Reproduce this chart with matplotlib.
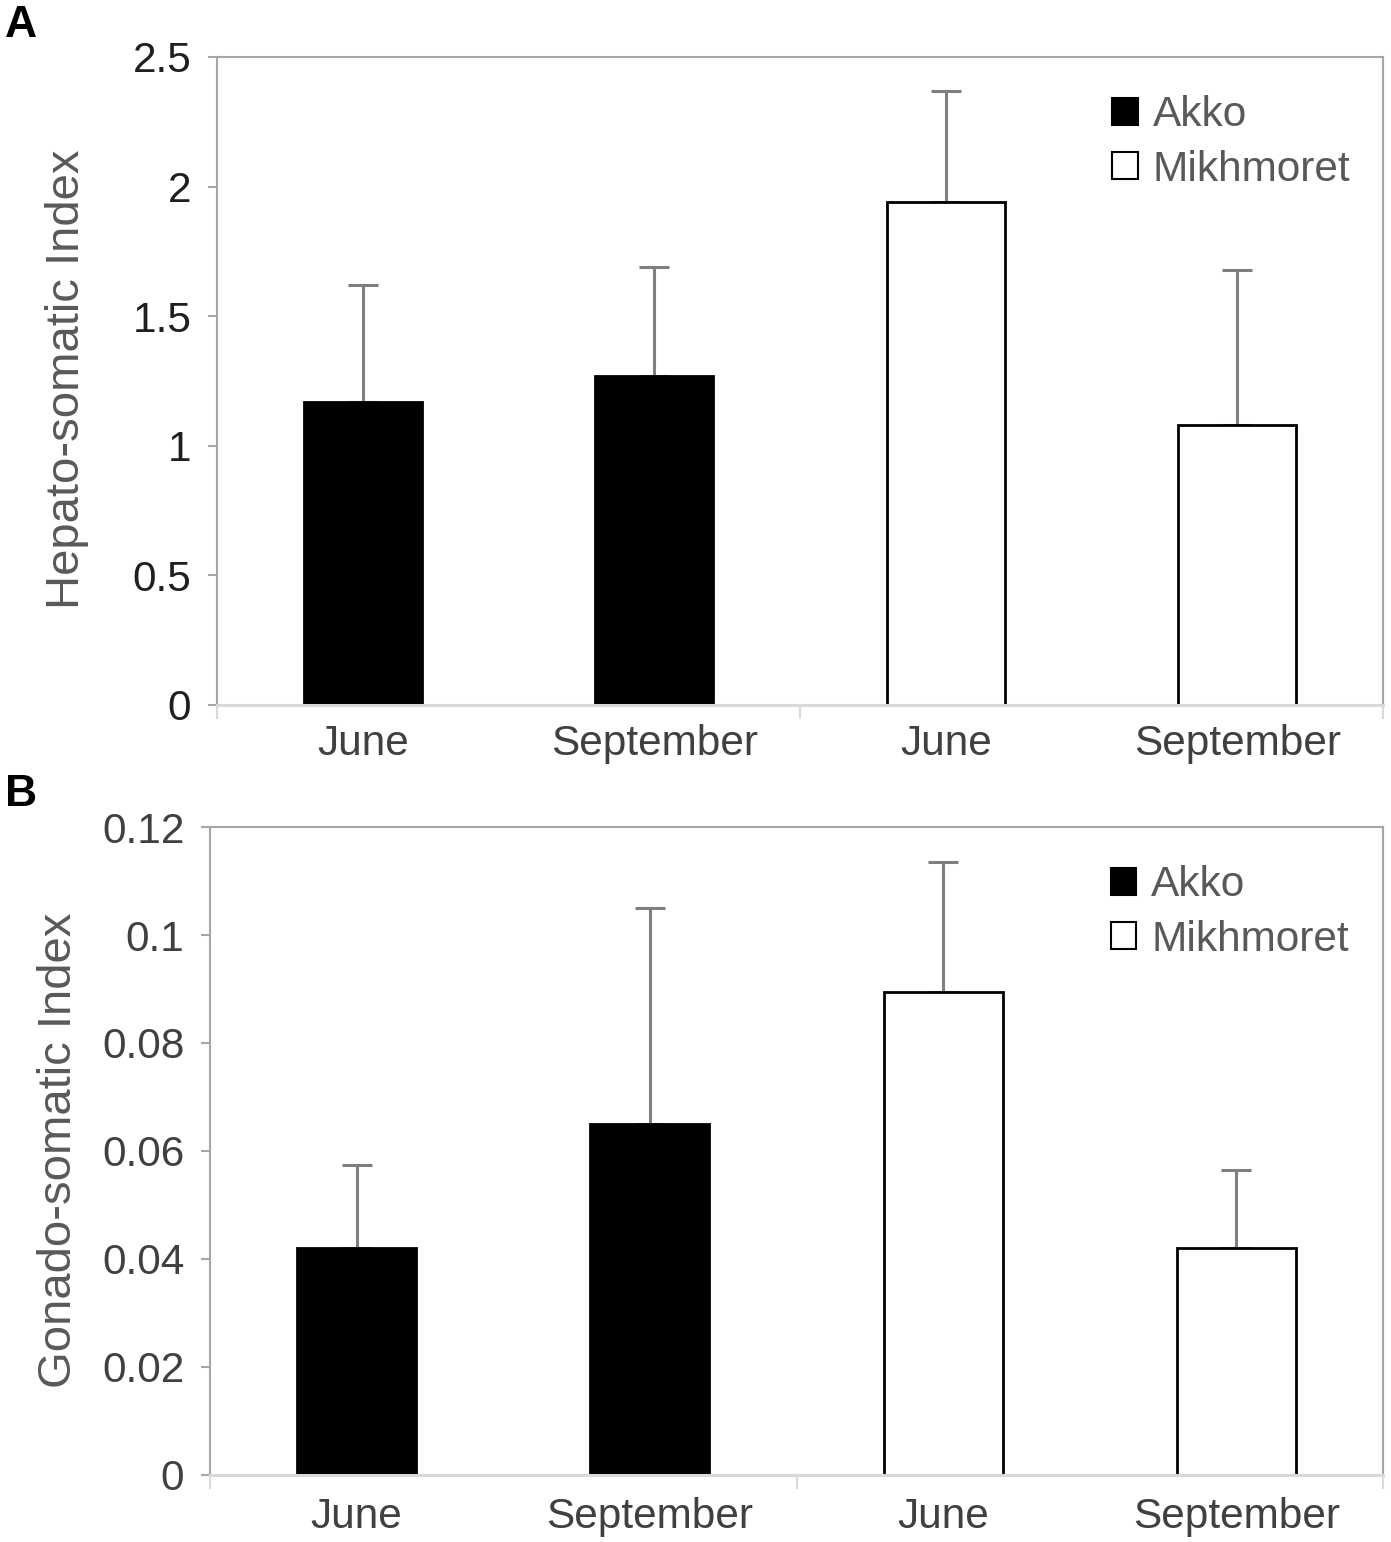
import numpy as np
import matplotlib
matplotlib.use("Agg")
import matplotlib.pyplot as plt
from matplotlib.patches import Patch

plt.rcParams['font.family'] = ['Liberation Sans', 'DejaVu Sans']

# data
months = ['June', 'September', 'June', 'September']
sites = ['Akko', 'Akko', 'Mikhmoret', 'Mikhmoret']
hsi = [1.17, 1.27, 1.94, 1.08]
hsi_err = [0.45, 0.42, 0.43, 0.60]
gsi = [0.042, 0.065, 0.0895, 0.042]
gsi_err = [0.0155, 0.040, 0.024, 0.0145]
hsi_ticks = [0, 0.5, 1, 1.5, 2, 2.5]
hsi_ticklabels = ['0', '0.5', '1', '1.5', '2', '2.5']
gsi_ticks = [0, 0.02, 0.04, 0.06, 0.08, 0.1, 0.12]
gsi_ticklabels = ['0', '0.02', '0.04', '0.06', '0.08', '0.1', '0.12']

site_fill = {'Akko': 'black', 'Mikhmoret': 'white'}
frame_col = '#a6a6a6'
base_col = '#d9d9d9'

W, H = 1391, 1542
fig = plt.figure(figsize=(W / 100, H / 100), dpi=100)


def panel(rect, vals, errs, ticks, ticklabels, ylabel, ylab_xy, tickcol, xpad):
    ax = fig.add_axes(rect)
    x = np.arange(len(vals))
    # error bars behind the bars, only upward part shows
    ax.errorbar(x, vals, yerr=[np.zeros(len(vals)), errs], fmt='none',
                ecolor='#7f7f7f', elinewidth=2.2, capsize=10.5, capthick=2.2,
                zorder=1)
    ax.bar(x, vals, width=0.405, color=[site_fill[s] for s in sites],
           edgecolor='black', linewidth=2, zorder=2)
    ax.set_xlim(-0.5, 3.5)
    ax.set_ylim(ticks[0], ticks[-1])
    ax.set_yticks(ticks)
    ax.set_yticklabels(ticklabels)
    ax.set_xticks(x)
    ax.set_xticklabels(months)
    ax.set_xticks([-0.5, 1.5, 3.5], minor=True)
    ax.tick_params(axis='x', which='major', length=0, pad=xpad, labelsize=30.5,
                   labelcolor='#404040')
    ax.tick_params(axis='x', which='minor', length=10, width=1.5,
                   color=base_col)
    ax.tick_params(axis='y', length=6.5, width=1.5, color=frame_col, pad=12,
                   labelsize=30.5, labelcolor=tickcol)
    for s in ['top', 'right', 'left']:
        ax.spines[s].set_color(frame_col)
        ax.spines[s].set_linewidth(1.5)
    ax.spines['bottom'].set_color(base_col)
    ax.spines['bottom'].set_linewidth(2.2)
    ax.spines['bottom'].set_zorder(3)
    fig.text(ylab_xy[0] / W, 1 - ylab_xy[1] / H, ylabel, rotation=90,
             ha='center', va='center', fontsize=34, color='#595959')
    handles = [Patch(facecolor='black', edgecolor='black', linewidth=1.5),
               Patch(facecolor='white', edgecolor='black', linewidth=1.5)]
    ax.legend(handles, ['Akko', 'Mikhmoret'], loc='upper left',
              bbox_to_anchor=(0.768, 0.941), frameon=False, fontsize=30.5,
              labelcolor='#595959', handlelength=0.6, handleheight=0.6,
              handletextpad=0.35, labelspacing=0.34, borderpad=0,
              borderaxespad=0)
    return ax


axA = panel([217 / W, 1 - 705 / H, 1166 / W, 648 / H], hsi, hsi_err,
            hsi_ticks, hsi_ticklabels, 'Hepato-somatic Index', (67, 379),
            '#1f1f1f', 14)
axB = panel([210 / W, 1 - 1475 / H, 1173 / W, 648 / H], gsi, gsi_err,
            gsi_ticks, gsi_ticklabels, 'Gonado-somatic Index', (59, 1150),
            '#404040', 16)

fig.text(5 / W, 1 - 37 / H, 'A', fontsize=32, fontweight='bold',
         ha='left', va='baseline')
fig.text(5 / W, 1 - 806 / H, 'B', fontsize=32, fontweight='bold',
         ha='left', va='baseline')

fig.savefig('out.png', dpi=100)
